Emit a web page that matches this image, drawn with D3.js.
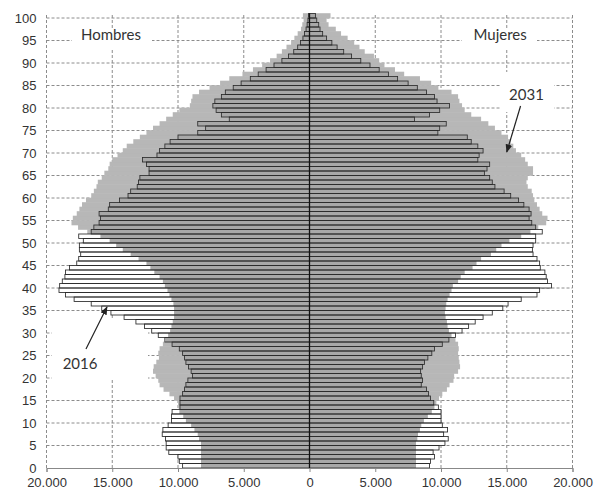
<!DOCTYPE html>
<html>
<head>
<meta charset="utf-8">
<script src="https://cdn.jsdelivr.net/npm/d3@7"></script>
<style>
  body { margin: 0; background: #fff; }
  svg { display: block; }
</style>
</head>
<body>
<svg></svg>
<script>
const width = 595,
    height = 495;

// ages 0..100, values in thousands of people
const ages = d3.range(0, 101);

const men2016 = [
    9.65, 9.9, 10.0, 10.7, 10.9, 10.9, 10.95, 11.2, 11.15, 10.75,
    10.5, 10.5, 10.45, 9.85, 9.85, 9.85, 9.65, 9.5, 9.4, 9.25,
    8.9, 9.0, 9.2, 9.4, 9.5, 9.65, 9.9, 10.45, 11.0, 11.5,
    12.0, 12.55, 13.2, 14.1, 15.1, 15.8, 16.6, 17.9, 18.55, 19.05,
    19.0, 18.8, 18.6, 18.55, 18.25, 17.7, 17.55, 17.4, 17.5, 17.5,
    17.2, 17.55, 16.6, 16.4, 16.0, 15.9, 16.0, 15.3, 15.2, 14.45,
    13.8, 13.6, 13.1, 13.0, 12.9, 12.2, 12.2, 12.4, 12.7, 11.6,
    11.4, 11.0, 10.6, 10.0, 8.5, 7.9, 8.5, 6.1, 6.7, 7.1,
    7.35, 7.2, 6.7, 6.4, 5.8, 5.2, 4.5, 3.9, 3.3, 2.7,
    2.1, 1.6, 1.2, 0.9, 0.68, 0.5, 0.38, 0.26, 0.18, 0.12,
    0.08
];

const women2016 = [
    9.13, 9.2, 9.5, 9.4, 9.85, 10.3, 10.55, 10.2, 10.5, 10.1,
    10.0, 10.0, 10.0, 9.8, 9.45, 9.2, 9.05, 8.9, 8.5, 8.6,
    8.5, 8.45, 8.6, 8.75, 9.0, 9.3, 9.5, 10.1, 10.6, 11.1,
    11.6, 12.1, 12.6, 13.2, 13.9, 14.7, 15.1, 16.1, 17.3, 17.5,
    18.4, 18.1, 18.0, 17.9, 17.55, 17.5, 17.3, 17.0, 16.95, 17.0,
    17.2, 17.2, 17.7, 17.2, 16.9, 16.7, 16.85, 16.7, 16.3, 15.9,
    15.3, 14.8, 14.1, 13.9, 13.7, 13.3, 13.5, 13.7, 12.8, 12.9,
    13.2, 12.8, 12.3, 12.0, 9.76, 9.9, 10.4, 7.98, 9.13, 9.9,
    10.65, 9.7, 9.5, 8.9, 8.2, 7.5, 6.7, 6.0, 5.3, 4.6,
    3.9, 3.2, 2.6, 2.1, 1.7, 1.3, 1.0, 0.8, 0.7, 0.55,
    0.45
];

const men2031 = [
    8.25, 8.25, 8.25, 8.25, 8.25, 8.25, 8.4, 8.5, 8.75, 9.0,
    9.4, 9.6, 9.9, 9.95, 10.0, 10.3, 10.65, 11.1, 11.4, 11.5,
    11.7, 11.9, 11.85, 11.65, 11.45, 11.5, 11.4, 11.15, 10.95, 10.75,
    10.6, 10.5, 10.4, 10.3, 10.3, 10.3, 10.35, 10.5, 10.65, 10.8,
    11.0, 11.15, 11.4, 11.8, 12.1, 12.4, 13.0, 13.6, 14.2, 14.7,
    15.2, 15.9, 16.9, 17.6, 18.1, 18.0, 17.7, 17.5, 17.3, 17.0,
    16.6, 16.4, 16.2, 16.1, 15.8, 15.6, 15.3, 15.2, 15.0, 14.6,
    14.2, 13.9, 13.4, 12.9, 12.4, 11.9, 11.4, 10.9, 10.4, 9.9,
    9.1, 9.0, 8.9, 8.4, 7.6, 6.8, 6.1, 5.1, 4.3, 3.6,
    3.0, 2.5, 2.1, 1.75, 1.4, 1.15, 0.9, 0.65, 0.55, 0.45,
    0.5
];

const women2031 = [
    8.1, 8.1, 8.1, 8.1, 8.1, 8.1, 8.2, 8.25, 8.4, 8.5,
    8.7, 9.0, 9.3, 9.5, 9.65, 9.85, 10.1, 10.45, 10.65, 10.95,
    11.0, 11.3, 11.45, 11.4, 11.35, 11.3, 11.35, 11.3, 11.1, 10.8,
    10.6, 10.5, 10.45, 10.35, 10.3, 10.35, 10.4, 10.5, 10.65, 10.8,
    10.9, 11.3, 11.5, 11.8, 12.4, 12.7, 13.05, 13.8, 14.2, 14.6,
    15.2, 16.1, 16.8, 17.4, 18.0, 18.1, 17.7, 17.5, 17.3, 17.1,
    17.0, 16.9, 16.6, 16.5, 16.6, 17.0, 17.0, 16.6, 16.4, 16.1,
    15.7, 15.5, 15.3, 15.1, 14.6, 14.1, 13.6, 13.05, 12.3, 11.8,
    11.6, 11.4, 11.3, 10.8, 9.8, 9.25, 8.4, 7.2, 6.5, 5.7,
    5.3, 4.9, 4.2, 3.8, 3.4, 2.9, 2.4, 2.0, 1.45, 1.3,
    1.6
];

const xTicks = d3.range(-20000, 20001, 5000),
    yTicks = d3.range(0, 101, 5);

const svg = d3.select("svg").attr("width", width).attr("height", height);

const x = d3.scaleLinear().domain([-20000, 20000]).range([46.5, 572.5]);
const y = d3.scaleLinear().domain([0, 100]).range([468, 18]);

const fmt = d3.formatLocale({decimal: ",", thousands: ".", grouping: [3], currency: ["", ""]}).format(",");

// grid
const grid = svg.append("g");
grid.selectAll("line.h")
    .data(yTicks.filter(d => d > 0))
    .enter().append("line")
    .attr("x1", x(-20000)).attr("x2", x(20000))
    .attr("y1", d => y(d)).attr("y2", d => y(d))
    .attr("stroke", "#8c8c8c").attr("stroke-dasharray", "3,2");
grid.selectAll("line.v")
    .data(xTicks.filter(d => d !== 0))
    .enter().append("line")
    .attr("x1", d => x(d)).attr("x2", d => x(d))
    .attr("y1", y(0)).attr("y2", y(101))
    .attr("stroke", "#8c8c8c").attr("stroke-dasharray", "3,2");

// white boxes behind the labels
const boxes = [
    {x: 72, y: 28, w: 80, h: 22},
    {x: 462, y: 28, w: 75, h: 22},
    {x: 500, y: 72, w: 54, h: 40},
    {x: 52, y: 320, w: 96, h: 60}
];
svg.append("g").selectAll("rect")
    .data(boxes)
    .enter().append("rect")
    .attr("x", d => d.x).attr("y", d => d.y)
    .attr("width", d => d.w).attr("height", d => d.h)
    .attr("fill", "#fff");

const bandH = y(0) - y(1);
const rows = ages.map(a => ({
    age: a,
    m16: men2016[a] * 1000, w16: women2016[a] * 1000,
    m31: men2031[a] * 1000, w31: women2031[a] * 1000
}));

const bars = svg.append("g");

// 2031: gray area
bars.selectAll("rect.m31").data(rows).enter().append("rect")
    .attr("x", d => x(-d.m31)).attr("y", d => y(d.age + 1) - 0.3)
    .attr("width", d => x(0) - x(-d.m31)).attr("height", bandH + 0.6)
    .attr("fill", "#b7b7b7");
bars.selectAll("rect.w31").data(rows).enter().append("rect")
    .attr("x", x(0)).attr("y", d => y(d.age + 1) - 0.3)
    .attr("width", d => x(d.w31) - x(0)).attr("height", bandH + 0.6)
    .attr("fill", "#b7b7b7");

// 2016: white bars
bars.selectAll("rect.m16").data(rows).enter().append("rect")
    .attr("x", d => x(-d.m16)).attr("y", d => y(d.age + 1))
    .attr("width", d => x(0) - x(-d.m16)).attr("height", bandH)
    .attr("fill", "#fff");
bars.selectAll("rect.w16").data(rows).enter().append("rect")
    .attr("x", x(0)).attr("y", d => y(d.age + 1))
    .attr("width", d => x(d.w16) - x(0)).attr("height", bandH)
    .attr("fill", "#fff");

// overlap of both years
bars.selectAll("rect.mo").data(rows).enter().append("rect")
    .attr("x", d => x(-Math.min(d.m16, d.m31))).attr("y", d => y(d.age + 1))
    .attr("width", d => x(0) - x(-Math.min(d.m16, d.m31))).attr("height", bandH)
    .attr("fill", "#a8a8a8");
bars.selectAll("rect.wo").data(rows).enter().append("rect")
    .attr("x", x(0)).attr("y", d => y(d.age + 1))
    .attr("width", d => x(Math.min(d.w16, d.w31)) - x(0)).attr("height", bandH)
    .attr("fill", "#a8a8a8");

// 2016 outlines
bars.selectAll("rect.mline").data(rows).enter().append("rect")
    .attr("x", d => x(-d.m16)).attr("y", d => y(d.age + 1))
    .attr("width", d => x(0) - x(-d.m16)).attr("height", bandH)
    .attr("fill", "none").attr("stroke", "#2a2a2a").attr("stroke-width", 0.85);
bars.selectAll("rect.wline").data(rows).enter().append("rect")
    .attr("x", x(0)).attr("y", d => y(d.age + 1))
    .attr("width", d => x(d.w16) - x(0)).attr("height", bandH)
    .attr("fill", "none").attr("stroke", "#2a2a2a").attr("stroke-width", 0.85);

// center axis
svg.append("line")
    .attr("x1", x(0)).attr("x2", x(0))
    .attr("y1", y(0)).attr("y2", y(101))
    .attr("stroke", "#111").attr("stroke-width", 1.3);

// bottom axis
const xAxis = d3.axisBottom(x).tickValues(xTicks).tickSize(4).tickPadding(6)
    .tickFormat(d => fmt(Math.abs(d)));
const gx = svg.append("g").attr("transform", `translate(0,${y(0)})`).call(xAxis);
gx.select(".domain").attr("stroke", "#888");
gx.selectAll(".tick line").attr("stroke", "#888");
gx.selectAll("text").attr("font-family", "Liberation Sans, Arial, sans-serif")
    .attr("font-size", 13).attr("fill", "#333");

const yAxis = d3.axisLeft(y).tickValues(yTicks).tickSize(0).tickPadding(10);
const gy = svg.append("g").attr("transform", `translate(${x(-20000)},0)`).call(yAxis);
gy.select(".domain").remove();
gy.selectAll("text").attr("font-family", "Liberation Sans, Arial, sans-serif")
    .attr("font-size", 13).attr("fill", "#333");

// labels and arrows
svg.append("defs").append("marker")
    .attr("id", "head").attr("viewBox", "0 0 10 10")
    .attr("refX", 9).attr("refY", 5)
    .attr("markerWidth", 7).attr("markerHeight", 7)
    .attr("orient", "auto")
    .append("path").attr("d", "M0,1L10,5L0,9Z").attr("fill", "#222");

const labels = [
    {text: "Hombres", x: x(-15100), y: 40},
    {text: "Mujeres", x: x(14500), y: 40},
    {text: "2031", x: x(16500), y: 100},
    {text: "2016", x: x(-17450), y: 369}
];
svg.append("g").selectAll("text")
    .data(labels)
    .enter().append("text")
    .attr("x", d => d.x).attr("y", d => d.y)
    .attr("text-anchor", "middle")
    .attr("font-family", "Lato, sans-serif")
    .attr("font-size", 15)
    .attr("fill", "#333")
    .text(d => d.text);

const arrows = [
    {x1: x(16050), y1: 106, x2: x(15000), y2: 152},
    {x1: x(-17000), y1: 349, x2: x(-15400), y2: 307}
];
svg.append("g").selectAll("line")
    .data(arrows)
    .enter().append("line")
    .attr("x1", d => d.x1).attr("y1", d => d.y1)
    .attr("x2", d => d.x2).attr("y2", d => d.y2)
    .attr("stroke", "#222").attr("stroke-width", 1.2)
    .attr("marker-end", "url(#head)");
</script>
</body>
</html>
